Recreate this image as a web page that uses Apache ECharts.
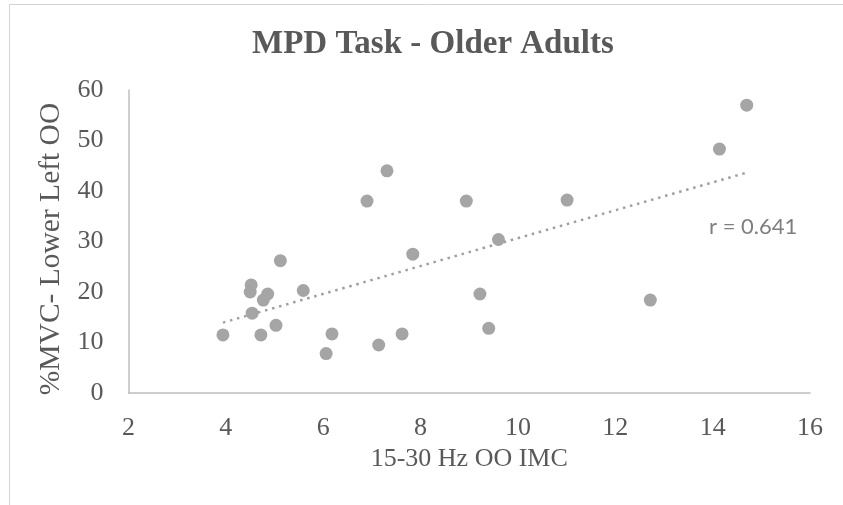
<!DOCTYPE html>
<html>
<head>
<meta charset="utf-8">
<script src="https://cdn.jsdelivr.net/npm/echarts@6/dist/echarts.min.js"></script>
<style>
  html, body { margin: 0; padding: 0; background: #fff; }
  #chart { width: 843px; height: 505px; }
</style>
</head>
<body>
<div id="chart"></div>
<script>
// 15-30 Hz OO IMC (x) vs %MVC of lower left OO (y), one point per participant
const imc = [3.94, 4.52, 4.50, 4.54, 4.72, 4.77, 4.86, 5.03, 5.12, 5.59, 6.06, 6.18, 6.90,
             7.14, 7.31, 7.62, 7.84, 8.94, 9.22, 9.40, 9.60, 11.01, 12.72, 14.14, 14.70];
const mvc = [11.5, 21.4, 20.0, 15.8, 11.5, 18.4, 19.6, 13.4, 26.2, 20.3, 7.8, 11.7, 38.0,
             9.5, 44.0, 11.7, 27.5, 38.0, 19.6, 12.8, 30.4, 38.2, 18.4, 48.3, 57.0];
const xTicks = [2, 4, 6, 8, 10, 12, 14, 16];
const yTicks = [0, 10, 20, 30, 40, 50, 60];
const rLabel = 'r = 0.641';

const points = imc.map((x, i) => [x, mvc[i]]);

// least-squares linear trendline over the data range
const n = imc.length;
const mx = imc.reduce((a, b) => a + b, 0) / n;
const my = mvc.reduce((a, b) => a + b, 0) / n;
let sxy = 0, sxx = 0;
for (let i = 0; i < n; i++) {
  sxy += (imc[i] - mx) * (mvc[i] - my);
  sxx += (imc[i] - mx) * (imc[i] - mx);
}
const slope = sxy / sxx;
const intercept = my - slope * mx;
const xMin = Math.min(...imc), xMax = Math.max(...imc);
const trend = [[xMin, intercept + slope * xMin], [xMax, intercept + slope * xMax]];

const chart = echarts.init(document.getElementById('chart'), null, { renderer: 'canvas' });
const serif = '"Liberation Serif", "Times New Roman", serif';
const axisColor = '#bfbfbf';
const textColor = '#595959';

chart.setOption({
  animation: false,
  backgroundColor: '#ffffff',
  title: {
    text: 'MPD Task - Older Adults',
    left: 247,
    top: 23,
    textStyle: { fontFamily: serif, fontWeight: 'bold', fontSize: 33, color: textColor }
  },
  grid: { left: 128.5, right: 33, top: 90, bottom: 112 },
  xAxis: {
    type: 'value',
    min: xTicks[0],
    max: xTicks[xTicks.length - 1],
    interval: 2,
    name: '15-30 Hz OO IMC',
    nameLocation: 'middle',
    nameGap: 37,
    nameTextStyle: { fontFamily: serif, fontSize: 26, color: textColor },
    axisLine: { show: true, lineStyle: { color: axisColor, width: 1.5 } },
    axisTick: { show: false },
    splitLine: { show: false },
    axisLabel: { fontFamily: serif, fontSize: 26, color: textColor, margin: 22 }
  },
  yAxis: {
    type: 'value',
    min: yTicks[0],
    max: yTicks[yTicks.length - 1],
    interval: 10,
    name: '%MVC- Lower Left OO',
    nameLocation: 'middle',
    nameGap: 40,
    nameTextStyle: { fontFamily: serif, fontSize: 29.5, color: textColor, padding: [0, 15, 0, 0] },
    axisLine: { show: true, lineStyle: { color: axisColor, width: 1.5 } },
    axisTick: { show: false },
    splitLine: { show: false },
    axisLabel: { fontFamily: serif, fontSize: 26, color: textColor, margin: 25 }
  },
  series: [
    {
      type: 'line',
      data: trend,
      symbol: 'none',
      silent: true,
      z: 1,
      lineStyle: { color: '#a0a0a0', width: 2.5, type: [2.5, 4.8] }
    },
    {
      type: 'scatter',
      data: points,
      symbol: 'circle',
      symbolSize: 13,
      z: 2,
      itemStyle: { color: '#a5a5a5', opacity: 1 }
    }
  ],
  graphic: [
    {
      type: 'polyline',
      shape: { points: [[9.5, 505], [9.5, 4.5], [843, 4.5]] },
      style: { stroke: '#d4d4d4', lineWidth: 1, fill: null },
      silent: true
    },
    {
      type: 'text',
      left: 709,
      top: 216,
      style: { text: rLabel, fontFamily: 'Lato, "Open Sans", sans-serif', fontSize: 22, fill: '#7f7f7f' }
    }
  ]
});
</script>
</body>
</html>
